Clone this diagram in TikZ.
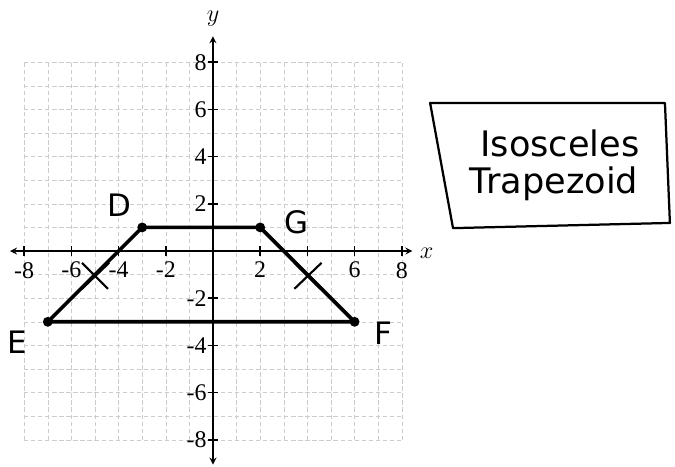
\documentclass[tikz,border=0pt]{standalone}
\usepackage{fontspec}
\setmainfont{Liberation Serif}
\setsansfont{DejaVu Sans}
\begin{document}
\begin{tikzpicture}[x=0.59cm,y=0.59cm,>=stealth,
  gridline/.style={gray!40,densely dashed,line width=0.4pt},
  axis/.style={line width=1.2pt},
  edge/.style={line width=2.6pt,line join=round},
  vertex/.style={circle,fill=black,inner sep=0pt,minimum size=7pt},
  ticklab/.style={font=\fontsize{17}{19}\selectfont,inner sep=1pt},
  hand/.style={font=\sffamily\fontsize{22}{24}\selectfont}]
\useasboundingbox (-9.025,-9.110) rectangle (19.576,10.636);
\foreach \i in {-8,...,8} {
  \draw[gridline] (\i,-8) -- (\i,8);
  \draw[gridline] (-8,\i) -- (8,\i);
}
\coordinate (xl) at (-8.6,0);
\coordinate (xr) at (8.45,0);
\coordinate (yb) at (0,-9.05);
\coordinate (yt) at (0,9.1);
\draw[axis,<->] (xl) -- (xr);
\draw[axis,<->] (yb) -- (yt);
\node[font=\fontsize{16}{18}\selectfont] (xlab) at (9.05,-0.1) {$x$};
\node[font=\fontsize{16}{18}\selectfont] (ylab) at (0,9.85) {$y$};
\foreach \x in {-8,-6,-4,-2,2,4,6,8} \draw[axis] (\x,0.2) -- (\x,-0.2);
\foreach \x in {-8,-6,-4,-2,2,6,8} \node[ticklab,below] at (\x,-0.4) {\x};
\foreach \y in {-8,-6,-4,-2,2,4,6,8} {
  \draw[axis] (-0.2,\y) -- (0.2,\y);
  \node[ticklab,left] at (-0.2,\y) {\y};
}
\coordinate (D) at (-3,1);
\coordinate (G) at (2,1);
\coordinate (F) at (6,-3);
\coordinate (E) at (-7,-3);
\draw[edge] (D) -- (G) -- (F) -- (E) -- cycle;
\foreach \v in {D,G,F,E} \node[vertex] at (\v) {};
\node[hand] (Dlab) at (-3.95,1.95) {D};
\node[hand] (Glab) at (3.55,1.2) {G};
\node[hand] (Elab) at (-8.3,-3.85) {E};
\node[hand] (Flab) at (7.2,-3.5) {F};
\coordinate (mDE) at (-5,-1);
\coordinate (mGF) at (4,-1);
\foreach \m in {mDE,mGF} {
  \draw[line width=1.5pt] ([shift={(-0.55,0.5)}]\m) -- ([shift={(0.55,-0.6)}]\m);
  \draw[line width=1.5pt] ([shift={(-0.55,-0.6)}]\m) -- ([shift={(0.6,0.5)}]\m);
}
\coordinate (b1) at (9.2,6.27);
\coordinate (b2) at (19.15,6.27);
\coordinate (b3) at (19.36,1.19);
\coordinate (b4) at (10.17,0.97);
\draw[line width=1.6pt,line join=round] (b1) -- (b2) -- (b3) -- (b4) -- cycle;
\node[hand,font=\sffamily\fontsize{25}{28}\selectfont] (isos) at (14.7,4.55) {Isosceles};
\node[hand,font=\sffamily\fontsize{25}{28}\selectfont] (trap) at (14.45,2.85) {Trapezoid};
\end{tikzpicture}
\end{document}
